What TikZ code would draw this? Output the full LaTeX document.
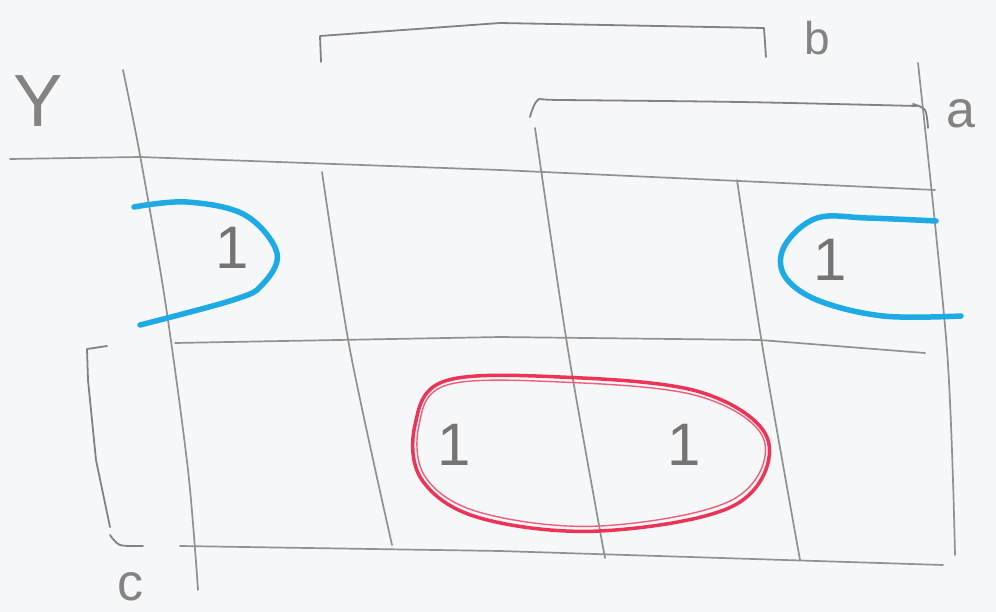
\documentclass[tikz,border=0pt]{standalone}
\usepackage{fontspec}
\setmainfont{Liberation Sans}
\definecolor{paper}{RGB}{246,247,249}
\definecolor{pencil}{RGB}{145,145,145}
\definecolor{cyanpen}{RGB}{30,170,228}
\definecolor{redpen}{RGB}{236,52,86}
\tikzset{
  grid line/.style={draw=pencil, line width=1.7pt, line cap=round, line join=round},
  brace line/.style={draw=pencil!90!black, line width=1.8pt, line cap=round, line join=round},
  one/.style={text=pencil!80!black, font=\fontsize{60}{60}\selectfont, inner sep=0pt},
  varlabel/.style={text=pencil!90!black, inner sep=0pt},
  blue loop/.style={draw=cyanpen, line width=5.5pt, line cap=round},
  red loop/.style={draw=redpen, line width=3.5pt, line cap=round},
}
\begin{document}
\begin{tikzpicture}[x=1pt,y=-1pt]
\fill[paper] (0,0) rectangle (996,612);
\useasboundingbox (0,0) rectangle (996,612);

% horizontal grid lines
\draw[grid line] (10,159) -- (140,157) -- (500,170) -- (935,190);
\draw[grid line] (175,343) -- (500,337) -- (760,340) -- (925,353);
\draw[grid line] (180,546) -- (500,551) -- (943,565);

% vertical grid lines
\draw[grid line] plot[smooth] coordinates {(123,70) (140,155) (165,300) (188,470) (198,590)};
\draw[grid line] plot[smooth] coordinates {(322,172) (350,350) (392,545)};
\draw[grid line] plot[smooth] coordinates {(535,128) (568,350) (605,558)};
\draw[grid line] plot[smooth] coordinates {(737,180) (763,350) (800,560)};
\draw[grid line] plot[smooth] coordinates {(918,63) (947,350) (955,555)};

% bracket b
\draw[brace line] (321,62) -- (320,36) -- (500,23) -- (764,28) -- (766,57);
\node[varlabel, font=\fontsize{46}{46}\selectfont, anchor=base] (lb) at (817,55) {b};

% bracket a
\draw[brace line] plot[smooth] coordinates {(530,117) (538,100) (560,100) (740,102) (917,106)};
\draw[brace line] plot[smooth] coordinates {(913,104) (925,110) (928,128)};
\node[varlabel, font=\fontsize{52}{52}\selectfont, anchor=base] (la) at (961,128) {a};

% bracket c
\draw[brace line] (107,346) -- (87,349) -- (88,380) -- (96,460) -- (110,527);
\draw[brace line] plot[smooth] coordinates {(110,535) (120,545) (143,546)};
\node[varlabel, font=\fontsize{52}{52}\selectfont, anchor=base] (lc) at (130,600) {c};

% output label
\node[varlabel, font=\fontsize{74}{74}\selectfont, anchor=base] (ly) at (38,127) {Y};

% ones
\node[one] (m0) at (232,248) {1};
\node[one] (m1) at (830,260) {1};
\node[one] (m2) at (454,445) {1};
\node[one] (m3) at (684,445) {1};

% blue wrap-around group
\draw[blue loop] plot[smooth, tension=0.6] coordinates {(134,207) (187,202) (245,215) (277,253) (262,285) (233,300) (140,325)};
\draw[blue loop] plot[smooth, tension=0.6] coordinates {(936,221) (867,218) (817,218) (785,245) (784,275) (817,300) (883,316) (961,316)};

% red group
\draw[red loop] plot[smooth cycle, tension=0.6] coordinates {(445,381) (560,377) (700,392) (768,440) (735,505) (600,531) (480,518) (422,480) (415,425)};
\draw[redpen!80, line width=1.4pt] plot[smooth cycle, tension=0.6] coordinates {(447,385) (560,382) (698,396) (764,440) (732,500) (600,526) (482,513) (426,478) (419,425)};
\end{tikzpicture}
\end{document}
